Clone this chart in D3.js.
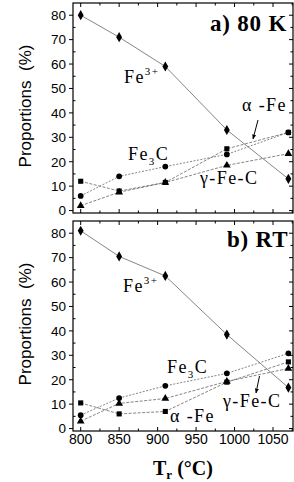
<!DOCTYPE html>
<html>
<head>
<meta charset="utf-8">
<script src="https://cdn.jsdelivr.net/npm/d3@7"></script>
<style>
  body { margin: 0; background: #fff; }
  svg { display: block; }
</style>
</head>
<body>
<svg id="chart" width="294" height="482"></svg>
<script>
// annealing temperatures (°C)
const temps = [800, 850, 910, 990, 1070]

// panel a) 80 K
const fe3A = [80, 71, 59, 33, 13]
const fe3cA = [6, 14, 18, 23, 32]
const alphaA = [12, 8, 11.5, 25.3, 32]
const gammaA = [2, 7.5, 11.5, 18.5, 23.3]

// panel b) RT
const fe3B = [81, 70.5, 62.5, 38.5, 16.8]
const fe3cB = [5.5, 12.5, 17.5, 22.6, 30.8]
const alphaB = [10.5, 6, 7, 19, 27.3]
const gammaB = [3, 10.3, 12.3, 19.3, 24.6]

const xTicks = [800, 850, 900, 950, 1000, 1050]
const yTicks = [0, 10, 20, 30, 40, 50, 60, 70, 80]

const svg = d3.select('#chart')
const L = 73, R = 293
const x = d3.scaleLinear().domain([790, 1076]).range([L, R])
const sans = "'Liberation Sans', Arial, sans-serif"
const serif = "'Liberation Serif', 'Times New Roman', serif"

const panels = [
  { top: 3, bottom: 213, title: 'a) 80 K', tx: 210, ty: 31, fe3: fe3A, fe3c: fe3cA, alpha: alphaA, gamma: gammaA, showX: false },
  { top: 221, bottom: 431, title: 'b) RT', tx: 227, ty: 247, fe3: fe3B, fe3c: fe3cB, alpha: alphaB, gamma: gammaB, showX: true }
]

const sym = {
  diamond: d3.symbol().type(d3.symbolDiamond).size(30),
  circle: d3.symbol().type(d3.symbolCircle).size(26),
  square: d3.symbol().type(d3.symbolSquare).size(26),
  triangle: d3.symbol().type(d3.symbolTriangle).size(26)
}

function drawPanel(p) {
  var y = d3.scaleLinear().domain([-1, 85]).range([p.bottom, p.top])
  var g = svg.append('g')

  // frame
  g.append('rect').attr('x', L).attr('y', p.top).attr('width', R - L).attr('height', p.bottom - p.top)
    .attr('fill', 'none').attr('stroke', '#000').attr('stroke-width', 1.2)

  // x ticks (inward, top and bottom)
  d3.range(800, 1076, 25).forEach(function (v) {
    var len = v % 50 === 0 ? 4 : 2.5
    g.append('line').attr('x1', x(v)).attr('x2', x(v)).attr('y1', p.bottom).attr('y2', p.bottom - len).attr('stroke', '#000')
    g.append('line').attr('x1', x(v)).attr('x2', x(v)).attr('y1', p.top).attr('y2', p.top + len).attr('stroke', '#000')
  })

  // y ticks: left outward for majors, right inward
  d3.range(0, 85, 5).forEach(function (v) {
    var major = v % 10 === 0
    if (major) g.append('line').attr('x1', L - 4).attr('x2', L).attr('y1', y(v)).attr('y2', y(v)).attr('stroke', '#000')
    else g.append('line').attr('x1', L).attr('x2', L + 2.5).attr('y1', y(v)).attr('y2', y(v)).attr('stroke', '#000')
    g.append('line').attr('x1', R).attr('x2', R - (major ? 4 : 2.5)).attr('y1', y(v)).attr('y2', y(v)).attr('stroke', '#000')
  })

  g.selectAll('text.ylab').data(yTicks).join('text').attr('class', 'ylab')
    .attr('x', 66).attr('y', function (d) { return y(d) }).attr('dy', '0.36em')
    .attr('text-anchor', 'end').attr('font-family', sans).attr('font-size', 13.5)
    .text(function (d) { return d })

  if (p.showX) {
    g.selectAll('text.xlab').data(xTicks).join('text').attr('class', 'xlab')
      .attr('x', function (d) { return x(d) }).attr('y', 444)
      .attr('text-anchor', 'middle').attr('font-family', sans).attr('font-size', 14)
      .text(function (d) { return d })
  }

  // y title
  g.append('text').attr('transform', 'translate(31,' + ((p.top + p.bottom) / 2 - 2) + ') rotate(-90)')
    .attr('text-anchor', 'middle').attr('font-family', sans).attr('font-size', 17)
    .attr('xml:space', 'preserve')
    .text('Proportions  (%)')

  // panel title
  g.append('text').attr('x', p.tx).attr('y', p.ty)
    .attr('font-family', serif).attr('font-weight', 'bold').attr('font-size', 23)
    .attr('letter-spacing', 0.8).attr('xml:space', 'preserve')
    .text(p.title)

  var series = [
    { v: p.alpha, s: 'square', dash: '3,1.5' },
    { v: p.gamma, s: 'triangle', dash: '3,1.5' },
    { v: p.fe3c, s: 'circle', dash: '2,1.5' },
    { v: p.fe3, s: 'diamond', dash: null }
  ]
  var line = d3.line().x(function (d, i) { return x(temps[i]) }).y(function (d) { return y(d) })
  series.forEach(function (se) {
    g.append('path').attr('d', line(se.v)).attr('fill', 'none').attr('stroke', '#666').attr('stroke-width', 0.8)
      .attr('stroke-dasharray', se.dash)
  })
  series.forEach(function (se) {
    g.selectAll(null).data(se.v).join('path')
      .attr('transform', function (d, i) { return 'translate(' + x(temps[i]) + ',' + y(d) + ')' })
      .attr('d', sym[se.s]).attr('fill', '#000')
  })
}

panels.forEach(drawPanel)

// species labels
function label(xp, yp, parts) {
  var t = svg.append('text').attr('x', xp).attr('y', yp).attr('font-family', serif).attr('font-size', 18)
    .attr('letter-spacing', 1.4).attr('xml:space', 'preserve')
  parts.forEach(function (pt) {
    var ts = t.append('tspan').text(pt.t)
    if (pt.sup) ts.attr('font-size', 11).attr('dy', -8)
    if (pt.sub) ts.attr('font-size', 11).attr('dy', 5)
    if (pt.back) ts.attr('dy', pt.back)
  })
}
label(124, 83, [{ t: 'Fe' }, { t: '3+', sup: true }])
label(128, 160, [{ t: 'Fe' }, { t: '3', sub: true }, { t: 'C', back: -5 }])
label(242, 111, [{ t: 'α -Fe' }])
label(200, 184, [{ t: 'γ-Fe-C' }])
label(123, 292, [{ t: 'Fe' }, { t: '3+', sup: true }])
label(167, 373, [{ t: 'Fe' }, { t: '3', sub: true }, { t: 'C', back: -5 }])
label(170, 422, [{ t: 'α -Fe' }])
label(223, 407, [{ t: 'γ-Fe-C' }])

// arrows
svg.append('defs').append('marker').attr('id', 'ah').attr('viewBox', '0 0 10 10').attr('refX', 9).attr('refY', 5)
  .attr('markerWidth', 5).attr('markerHeight', 7).attr('orient', 'auto')
  .append('path').attr('d', 'M0,1 L10,5 L0,9 Z').attr('fill', '#000')
svg.append('line').attr('x1', 258).attr('y1', 120).attr('x2', 253).attr('y2', 139).attr('stroke', '#000').attr('stroke-width', 1).attr('marker-end', 'url(#ah)')
svg.append('line').attr('x1', 259.5).attr('y1', 376).attr('x2', 256).attr('y2', 393).attr('stroke', '#000').attr('stroke-width', 1).attr('marker-end', 'url(#ah)')

// x title
const xt = svg.append('text').attr('x', 153).attr('y', 475).attr('font-family', serif).attr('font-weight', 'bold').attr('font-size', 20)
xt.append('tspan').text('T')
xt.append('tspan').text('r').attr('font-size', 13).attr('dy', 4)
xt.append('tspan').text(' (°C)').attr('dy', -4).attr('xml:space', 'preserve')
</script>
</body>
</html>
